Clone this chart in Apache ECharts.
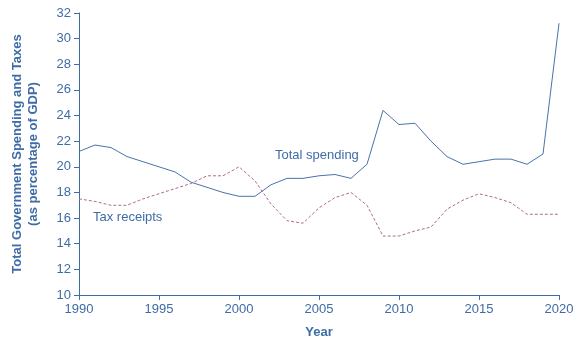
<!DOCTYPE html>
<html>
<head>
<meta charset="utf-8">
<script src="https://cdn.jsdelivr.net/npm/echarts@6/dist/echarts.min.js"></script>
<style>
  html, body { margin: 0; padding: 0; background: #fff; }
  #chart { width: 586px; height: 351px; }
</style>
</head>
<body>
<div id="chart"></div>
<script>
const years = []
for (let y = 1990; y <= 2020; y++) years.push(y)

const spending = [21.2, 21.7, 21.5, 20.8, 20.4, 20.0, 19.6, 18.8, 18.4, 18.0,
  17.7, 17.7, 18.6, 19.1, 19.1, 19.3, 19.4, 19.1, 20.2, 24.4,
  23.3, 23.4, 22.0, 20.8, 20.2, 20.4, 20.6, 20.6, 20.2, 21.0, 31.2]

const taxes = [17.5, 17.3, 17.0, 17.0, 17.5, 17.9, 18.3, 18.7, 19.3, 19.3,
  20.0, 18.9, 17.1, 15.8, 15.6, 16.8, 17.6, 18.0, 17.0, 14.6,
  14.6, 15.0, 15.3, 16.7, 17.4, 17.9, 17.6, 17.2, 16.3, 16.3, 16.3]

const blue = '#3f6ca6'
const lineBlue = '#4a72aa'
const mauve = '#b06b8c'
const font = '"Liberation Sans", Arial, sans-serif'

const myChart = echarts.init(document.getElementById('chart'))
myChart.setOption({
  animation: false,
  grid: { left: 79, right: 27, top: 13, bottom: 56, outerBoundsMode: 'none', containLabel: false },
  xAxis: {
    type: 'value',
    min: 1990,
    max: 2020,
    interval: 5,
    name: 'Year',
    nameLocation: 'middle',
    nameGap: 31,
    nameTextStyle: { color: blue, fontFamily: font, fontSize: 13, fontWeight: 'bold' },
    axisLine: { lineStyle: { color: blue, width: 1 } },
    axisTick: { length: 5, lineStyle: { color: blue } },
    axisLabel: { color: blue, fontFamily: font, fontSize: 13, margin: 8, formatter: v => String(v) },
    splitLine: { show: false }
  },
  yAxis: {
    type: 'value',
    min: 10,
    max: 32,
    interval: 2,
    name: 'Total Government Spending and Taxes\n(as percentage of GDP)',
    nameLocation: 'middle',
    nameGap: 38,
    nameTextStyle: { color: blue, fontFamily: font, fontSize: 13, fontWeight: 'bold', lineHeight: 16 },
    axisLine: { show: true, lineStyle: { color: blue, width: 1 } },
    axisTick: { show: true, length: 5, lineStyle: { color: blue } },
    axisLabel: { color: blue, fontFamily: font, fontSize: 13, margin: 8 },
    splitLine: { show: false }
  },
  series: [
    {
      name: 'Total spending',
      type: 'line',
      data: years.map((y, i) => [y, spending[i]]),
      showSymbol: false,
      lineStyle: { color: lineBlue, width: 1 }
    },
    {
      name: 'Tax receipts',
      type: 'line',
      data: years.map((y, i) => [y, taxes[i]]),
      showSymbol: false,
      lineStyle: { color: mauve, width: 1, type: [3, 2] }
    }
  ],
  graphic: [
    {
      type: 'text', left: 275, top: 149,
      style: { text: 'Total spending', fill: blue, font: '13px ' + font }
    },
    {
      type: 'text', left: 93, top: 211,
      style: { text: 'Tax receipts', fill: blue, font: '13px ' + font }
    }
  ]
})
</script>
</body>
</html>
